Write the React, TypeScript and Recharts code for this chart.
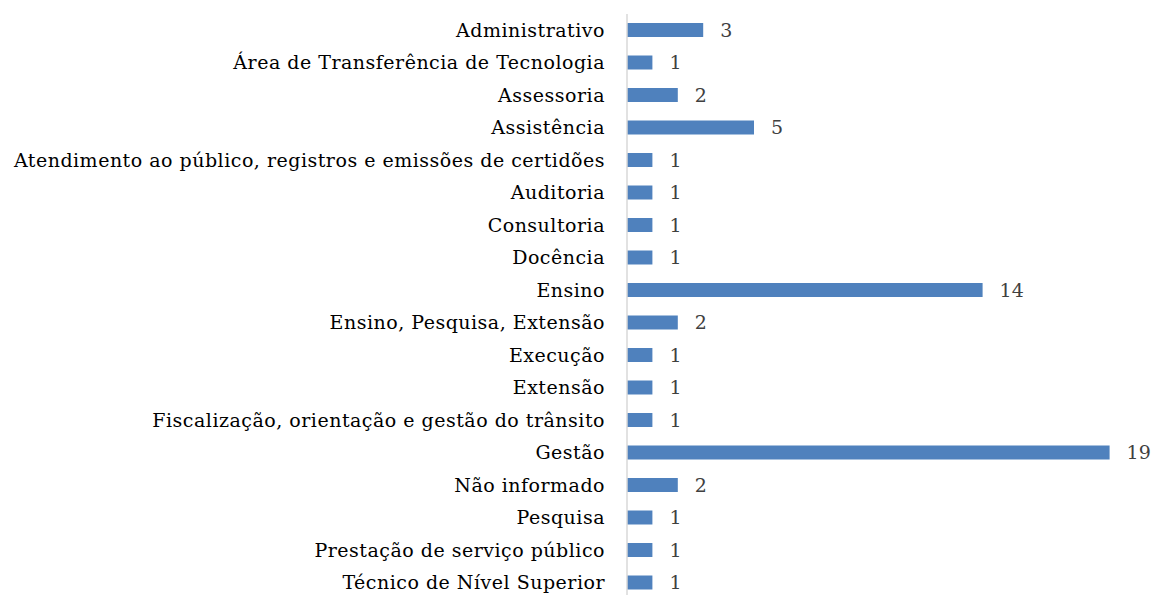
import { BarChart, Bar, XAxis, YAxis, LabelList } from 'recharts';

const categories = [
  'Administrativo',
  'Área de Transferência de Tecnologia',
  'Assessoria',
  'Assistência',
  'Atendimento ao público, registros e emissões de certidões',
  'Auditoria',
  'Consultoria',
  'Docência',
  'Ensino',
  'Ensino, Pesquisa, Extensão',
  'Execução',
  'Extensão',
  'Fiscalização, orientação e gestão do trânsito',
  'Gestão',
  'Não informado',
  'Pesquisa',
  'Prestação de serviço público ',
  'Técnico de Nível Superior',
];

const counts = [3, 1, 2, 5, 1, 1, 1, 1, 14, 2, 1, 1, 1, 19, 2, 1, 1, 1];

const data = categories.map((name, i) => ({ name, value: counts[i] }));

const font = '"DejaVu Serif", serif';

export default function App() {
  return (
    <div style={{ position: 'absolute', left: 0, top: 0, background: '#fff' }}>
      <BarChart
        width={1156}
        height={599}
        data={data}
        layout="vertical"
        margin={{ top: 14, right: 21, bottom: 0, left: 0 }}
        barCategoryGap={0}
      >
        <XAxis type="number" domain={[0, 20]} hide />
        <YAxis
          type="category"
          dataKey="name"
          width={627}
          axisLine={{ stroke: '#d9d9d9', strokeWidth: 1.5 }}
          tickLine={false}
          interval={0}
          tickMargin={16}
          tick={{ fill: '#000', fontSize: 19, fontFamily: font, letterSpacing: 0.5 }}
        />
        <Bar dataKey="value" fill="#4f81bd" barSize={14} isAnimationActive={false}>
          <LabelList
            dataKey="value"
            position="right"
            offset={17}
            style={{ fill: '#404040', fontSize: 19, fontFamily: font }}
          />
        </Bar>
      </BarChart>
    </div>
  );
}
